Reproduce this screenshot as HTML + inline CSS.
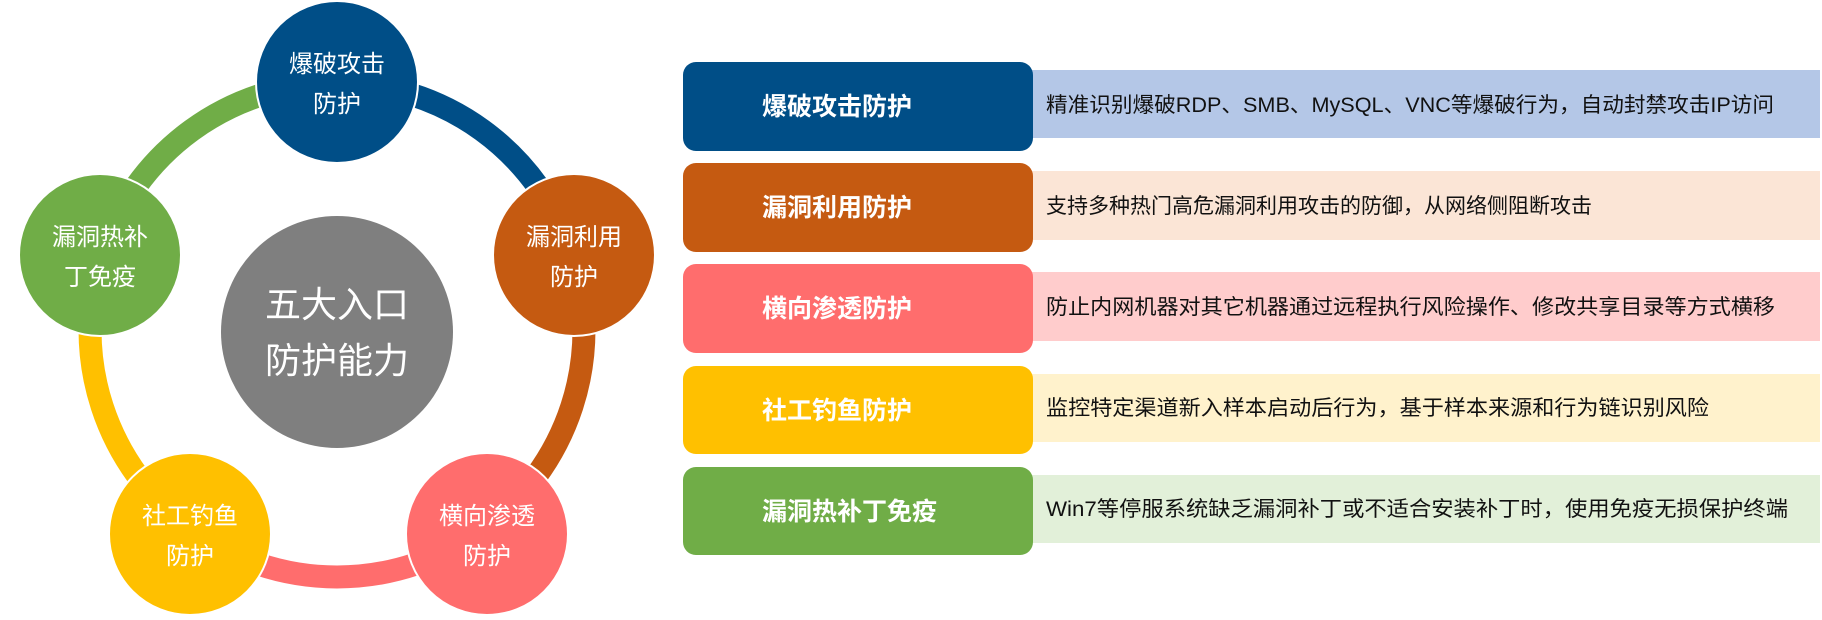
<!DOCTYPE html>
<html><head><meta charset="utf-8"><style>
html,body{margin:0;padding:0;background:#fff;}
svg{display:block;}
text{font-family:"Liberation Sans","Noto Sans CJK SC",sans-serif;}
</style></head><body>
<svg width="1822" height="620" viewBox="0 0 1822 620" xmlns="http://www.w3.org/2000/svg">
<g fill="none" stroke-width="23">
<path d="M337 83 A247 247 0 0 1 571.9 253.7" stroke="#004E87"/>
<path d="M571.9 253.7 A247 247 0 0 1 482.2 529.8" stroke="#C55A11"/>
<path d="M482.2 529.8 A247 247 0 0 1 191.8 529.8" stroke="#FF6D6D"/>
<path d="M191.8 529.8 A247 247 0 0 1 102.1 253.7" stroke="#FFC000"/>
<path d="M102.1 253.7 A247 247 0 0 1 337 83" stroke="#70AD47"/>
</g>
<circle cx="337" cy="332" r="116" fill="#7F7F7F"/>
<g stroke="#fff" stroke-width="2">
<circle cx="337" cy="82" r="81" fill="#004E87"/>
<circle cx="574" cy="255" r="81" fill="#C55A11"/>
<circle cx="487" cy="534" r="81" fill="#FF6D6D"/>
<circle cx="190" cy="534" r="81" fill="#FFC000"/>
<circle cx="100" cy="255" r="81" fill="#70AD47"/>
</g>
<g fill="#fff" font-size="24" text-anchor="middle">
<text x="337" y="72">爆破攻击</text><text x="337" y="112">防护</text>
<text x="574" y="245">漏洞利用</text><text x="574" y="285">防护</text>
<text x="487" y="524">横向渗透</text><text x="487" y="564">防护</text>
<text x="190" y="524">社工钓鱼</text><text x="190" y="564">防护</text>
<text x="100" y="245">漏洞热补</text><text x="100" y="285">丁免疫</text>
<text x="337" y="317" font-size="36">五大入口</text>
<text x="337" y="373" font-size="36">防护能力</text>
</g>
<g>
<rect x="1031" y="70" width="789" height="68" fill="#B4C7E7"/>
<rect x="1031" y="171" width="789" height="69" fill="#FBE5D6"/>
<rect x="1031" y="272" width="789" height="69" fill="#FFCCCC"/>
<rect x="1031" y="374" width="789" height="68" fill="#FFF2CC"/>
<rect x="1031" y="475" width="789" height="68" fill="#E2F0D9"/>
<rect x="683" y="62" width="350" height="89" rx="13" fill="#004E87"/>
<rect x="683" y="163" width="350" height="89" rx="13" fill="#C55A11"/>
<rect x="683" y="264" width="350" height="89" rx="13" fill="#FF6D6D"/>
<rect x="683" y="366" width="350" height="88" rx="13" fill="#FFC000"/>
<rect x="683" y="467" width="350" height="88" rx="13" fill="#70AD47"/>
</g>
<g fill="#fff" font-size="25" font-weight="bold">
<text x="762" y="115">爆破攻击防护</text>
<text x="762" y="216">漏洞利用防护</text>
<text x="762" y="317">横向渗透防护</text>
<text x="762" y="419">社工钓鱼防护</text>
<text x="762" y="520">漏洞热补丁免疫</text>
</g>
<g fill="#111" font-size="21">
<text x="1046" y="112" textLength="728" lengthAdjust="spacingAndGlyphs">精准识别爆破RDP、SMB、MySQL、VNC等爆破行为，自动封禁攻击IP访问</text>
<text x="1046" y="213">支持多种热门高危漏洞利用攻击的防御，从网络侧阻断攻击</text>
<text x="1046" y="314" textLength="729" lengthAdjust="spacingAndGlyphs">防止内网机器对其它机器通过远程执行风险操作、修改共享目录等方式横移</text>
<text x="1046" y="415" textLength="663" lengthAdjust="spacingAndGlyphs">监控特定渠道新入样本启动后行为，基于样本来源和行为链识别风险</text>
<text x="1046" y="516" textLength="742" lengthAdjust="spacingAndGlyphs">Win7等停服系统缺乏漏洞补丁或不适合安装补丁时，使用免疫无损保护终端</text>
</g>
</svg>
</body></html>
